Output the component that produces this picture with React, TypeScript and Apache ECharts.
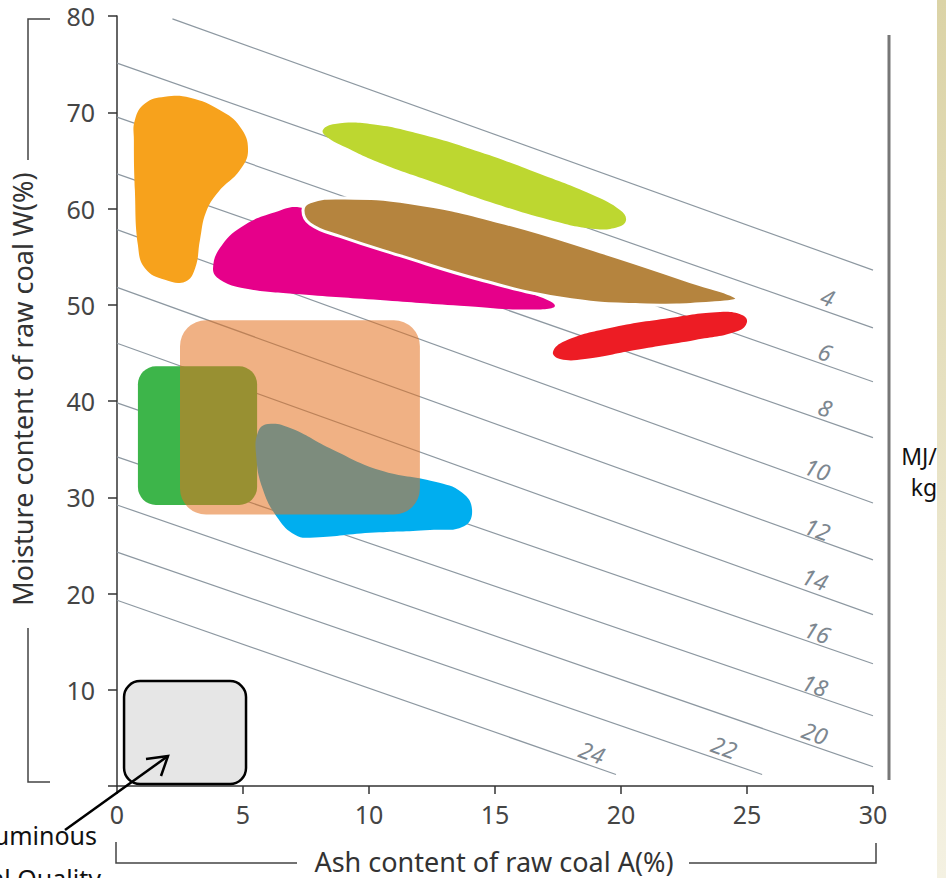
import React, { useEffect, useRef } from "react";
import * as echarts from "echarts";

// Axis ticks
const xTickValues = [0, 5, 10, 15, 20, 25, 30];
const yTickValues = [0, 10, 20, 30, 40, 50, 60, 70, 80];

// Calorific value contour lines (MJ/kg)
const contourLabels = ["", "4", "6", "8", "10", "12", "14", "16", "18", "20", "22", "24"];
const contourStartX = [2.2, 0, 0, 0, 0, 0, 0, 0, 0, 0, 0, 0];
const contourStartY = [79.7, 75.1, 69.5, 63.6, 57.8, 51.8, 46.0, 39.8, 34.2, 29.2, 24.3, 19.3];
const contourEndX = [30, 30, 30, 30, 30, 30, 30, 30, 30, 30, 25.6, 19.8];
const contourEndY = [53.6, 47.6, 42.0, 36.2, 29.4, 23.5, 17.8, 12.7, 7.3, 2.0, 1.2, 1.2];
const contourLabelX = [28.2, 28.1, 28.1, 27.8, 27.8, 27.7, 27.8, 27.7, 27.7, 24.1, 18.85];
const contourLabelY = [50.8, 45.1, 39.3, 32.9, 26.7, 21.5, 16.0, 10.5, 5.5, 4.05, 3.5];

// Coal deposit regions (ash %, moisture %)
const orangeBlob = [
  [0.71, 69.2], [1.11, 70.9], [1.9, 71.6], [2.9, 71.5], [4.09, 70.2], [4.88, 68.5], [5.2, 66.1],
  [4.88, 64.0], [4.01, 61.7], [3.53, 59.6], [3.29, 56.7], [3.1, 53.8], [2.7, 52.4], [1.9, 52.6],
  [1.11, 53.8], [0.83, 56.2], [0.71, 61.9], [0.67, 67.1],
];
const limeBlob = [
  [8.17, 68.16], [8.65, 68.78], [10.04, 68.78], [12.02, 67.74], [14.4, 65.87], [16.79, 63.58],
  [18.97, 61.3], [19.96, 59.84], [20.2, 58.81], [19.88, 58.08], [18.97, 57.87], [17.18, 58.81],
  [14.8, 60.68], [12.42, 62.86], [10.44, 64.73], [9.05, 66.39], [8.33, 67.43],
];
const magentaBlob = [
  [3.81, 53.8], [4.17, 56.2], [5.08, 58.3], [6.27, 59.6], [7.26, 60.1], [8.45, 58.8], [11.23, 55.7],
  [14.01, 53.1], [16.39, 51.2], [17.38, 49.9], [16.39, 49.5], [13.61, 49.9], [10.44, 50.5], [7.26, 51.1],
  [5.08, 51.7], [4.09, 52.6],
];
const brownBlob = [
  [7.38, 59.8], [7.66, 60.7], [8.85, 61.1], [11.63, 60.6], [15.2, 58.6], [19.17, 55.5], [22.74, 52.4],
  [24.6, 50.7], [23.73, 50.2], [20.75, 50.0], [17.58, 50.7], [14.4, 52.6], [11.23, 55.1], [8.85, 57.1],
  [7.66, 58.4],
];
const redBlob = [
  [17.3, 45.09], [17.78, 46.23], [19.56, 47.58], [21.94, 48.62], [23.93, 49.25], [24.8, 48.94],
  [25.0, 48.21], [24.64, 47.27], [22.94, 46.34], [20.56, 45.3], [18.57, 44.36], [17.58, 44.36],
];
const blueBlob = [
  [5.6, 36.8], [5.99, 37.6], [6.87, 37.2], [8.45, 35.1], [10.44, 32.8], [12.62, 31.6], [13.69, 30.5],
  [14.09, 28.7], [13.77, 27.0], [12.42, 26.6], [10.04, 26.3], [7.66, 25.8], [7.06, 26.1], [6.39, 27.8],
  [5.79, 30.8], [5.52, 34.4],
];
// Rounded boxes: [xMin, yMin, xMax, yMax]
const greenBox = [0.83, 29.2, 5.56, 43.6];
const orangeBox = [2.5, 28.2, 12.02, 48.4];
const greyBox = [0.28, 0.2, 5.12, 10.9];

const FONT = "Noto Sans";

function blobSeries(name: string, pts: number[][], fill: string, stroke?: string, lw?: number) {
  return {
    type: "custom",
    name,
    silent: true,
    data: [pts[0]],
    renderItem: (_p: any, api: any) => ({
      type: "polygon",
      shape: { points: pts.map((p) => api.coord(p)), smooth: 0.45 },
      style: { fill, stroke: stroke || "none", lineWidth: lw || 0 },
    }),
  };
}

function boxSeries(name: string, box: number[], fill: string, opacity: number, r: number, stroke?: string, lw?: number) {
  return {
    type: "custom",
    name,
    silent: true,
    data: [[box[0], box[1]]],
    renderItem: (_p: any, api: any) => {
      const a = api.coord([box[0], box[3]]);
      const b = api.coord([box[2], box[1]]);
      return {
        type: "rect",
        shape: { x: a[0], y: a[1], width: b[0] - a[0], height: b[1] - a[1], r },
        style: { fill, opacity, stroke: stroke || "none", lineWidth: lw || 0 },
      };
    },
  };
}

export default function App() {
  const ref = useRef<HTMLDivElement>(null);
  useEffect(() => {
    document.body.style.margin = "0";
    const chart = echarts.init(ref.current!, null, { renderer: "svg" });
    const lineSeries = contourLabels.map((lab, i) => ({
      type: "line",
      name: "line" + i,
      silent: true,
      symbol: "none",
      data: [
        [contourStartX[i], contourStartY[i]],
        [contourEndX[i], contourEndY[i]],
      ],
      lineStyle: { color: "#8d98a1", width: 1.2 },
      z: 1,
    }));
    const labelSeries = {
      type: "custom",
      silent: true,
      data: contourLabelX.map((x, i) => [x, contourLabelY[i], i + 1]),
      renderItem: (_p: any, api: any) => {
        const p = api.coord([api.value(0), api.value(1)]);
        return {
          type: "text",
          x: p[0],
          y: p[1],
          rotation: -0.34,
          style: {
            text: contourLabels[api.value(2)],
            fill: "#7d8790",
            fontSize: 23,
            fontStyle: "italic",
            fontFamily: FONT,
            align: "center",
            verticalAlign: "middle",
          },
        };
      },
    };
    const option: any = {
      animation: false,
      grid: { left: 117, right: 73, top: 16, bottom: 92, containLabel: false },
      xAxis: {
        type: "value",
        min: xTickValues[0],
        max: xTickValues[xTickValues.length - 1],
        interval: 5,
        axisLine: { show: true, lineStyle: { color: "#333", width: 1.5 } },
        axisTick: { show: true, length: 8, lineStyle: { color: "#333", width: 1.5 } },
        axisLabel: { fontSize: 25, color: "#454545", fontFamily: FONT, margin: 15 },
        splitLine: { show: false },
      },
      yAxis: {
        type: "value",
        min: yTickValues[0],
        max: yTickValues[yTickValues.length - 1],
        interval: 10,
        axisLine: { show: true, lineStyle: { color: "#333", width: 1.5 } },
        axisTick: { show: true, length: 9, lineStyle: { color: "#333", width: 1.5 } },
        axisLabel: {
          fontSize: 25,
          lineHeight: 22,
          color: "#454545",
          fontFamily: FONT,
          margin: 22,
          formatter: (v: number) => (v === 0 ? "" : String(v)),
        },
        splitLine: { show: false },
      },
      series: [
        ...lineSeries,
        labelSeries,
        boxSeries("green", greenBox, "#3db54a", 1, 18),
        blobSeries("blue", blueBlob, "#00aeef"),
        boxSeries("orangeBox", orangeBox, "#e4711f", 0.55, 26),
        blobSeries("orange", orangeBlob, "#f7a21c"),
        blobSeries("magenta", magentaBlob, "#e6008a"),
        blobSeries("brown", brownBlob, "#b5843e", "#ffffff", 3),
        blobSeries("lime", limeBlob, "#bdd730"),
        blobSeries("red", redBlob, "#ed1c24"),
        boxSeries("grey", greyBox, "#e6e6e6", 1, 16, "#000000", 2.5),
      ],
      graphic: [
        // right gradient strip
        {
          type: "rect",
          shape: { x: 937, y: 0, width: 9, height: 878 },
          style: {
            fill: new echarts.graphic.LinearGradient(0, 0, 0, 1, [
              { offset: 0, color: "#dbd3a6" },
              { offset: 1, color: "#f4f1e2" },
            ]),
          },
          silent: true,
        },
        // left bracket for y-axis name
        { type: "polyline", shape: { points: [[50, 19], [28, 19], [28, 160]] }, style: { stroke: "#444", lineWidth: 1.5, fill: "none" } },
        { type: "polyline", shape: { points: [[28, 628], [28, 782], [50, 782]] }, style: { stroke: "#444", lineWidth: 1.5, fill: "none" } },
        {
          type: "text",
          x: 22,
          y: 389,
          rotation: Math.PI / 2,
          style: {
            text: "Moisture content of raw coal W(%)",
            fontSize: 27,
            fontFamily: FONT,
            fill: "#333",
            align: "center",
            verticalAlign: "middle",
          },
        },
        // bottom bracket for x-axis name
        { type: "polyline", shape: { points: [[116, 842], [116, 863], [297, 863]] }, style: { stroke: "#444", lineWidth: 1.5, fill: "none" } },
        { type: "polyline", shape: { points: [[689, 863], [876, 863], [876, 843]] }, style: { stroke: "#444", lineWidth: 1.5, fill: "none" } },
        {
          type: "text",
          x: 494,
          y: 861,
          style: {
            text: "Ash content of raw coal A(%)",
            fontSize: 27,
            fontFamily: FONT,
            fill: "#333",
            align: "center",
            verticalAlign: "middle",
          },
        },
        // right MJ/kg bar
        { type: "line", shape: { x1: 889, y1: 35, x2: 889, y2: 780 }, style: { stroke: "#777", lineWidth: 3 } },
        {
          type: "text",
          x: 919,
          y: 456,
          style: { text: "MJ/", fontSize: 23, fontFamily: FONT, fill: "#111", align: "center", verticalAlign: "middle" },
        },
        {
          type: "text",
          x: 924,
          y: 487,
          style: { text: "kg", fontSize: 23, fontFamily: FONT, fill: "#111", align: "center", verticalAlign: "middle" },
        },
        // bottom-left annotation
        {
          type: "text",
          x: 97,
          y: 835,
          style: { text: "Bituminous", fontSize: 25, fontFamily: FONT, fill: "#111", align: "right", verticalAlign: "middle" },
        },
        {
          type: "text",
          x: 101,
          y: 878,
          style: { text: "Coal Quality", fontSize: 25, fontFamily: FONT, fill: "#111", align: "right", verticalAlign: "middle" },
        },
        {
          type: "polyline",
          z: 100,
          shape: { points: [[65, 830], [168, 756]] },
          style: { stroke: "#000", lineWidth: 2.5, fill: "none" },
        },
        {
          type: "polyline",
          z: 100,
          shape: { points: [[146, 759], [168, 756], [161, 776]] },
          style: { stroke: "#000", lineWidth: 2.5, fill: "none" },
        },
      ],
    };
    chart.setOption(option);
    return () => chart.dispose();
  }, []);
  return <div ref={ref} style={{ width: 946, height: 878 }} />;
}
